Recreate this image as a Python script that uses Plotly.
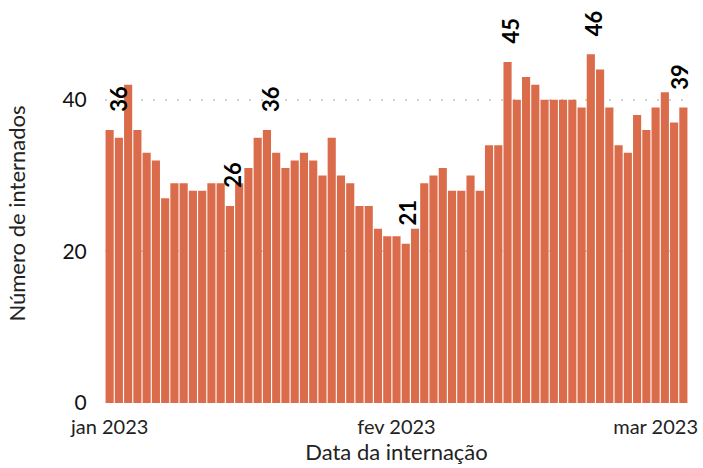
import pandas as pd
import plotly.graph_objects as go

# Internações diárias, 1 jan a 4 mar 2023
datas = pd.date_range("2023-01-01", "2023-03-04", freq="D")
internados = [
    36, 35, 42, 36, 33, 32, 27, 29, 29, 28, 28, 29, 29, 26, 29, 31,
    35, 36, 33, 31, 32, 33, 32, 30, 35, 30, 29, 26, 26, 23, 22,
    22, 21, 23, 29, 30, 31, 28, 28, 30, 28, 34, 34, 45, 40, 43, 42,
    40, 40, 40, 40, 39, 46, 44, 39, 34, 33, 38, 36, 39, 41, 37, 39,
]

# Dias destacados com rótulo
datas_rotulo = ["2023-01-01", "2023-01-14", "2023-01-18", "2023-02-02",
                "2023-02-13", "2023-02-22", "2023-03-04"]

tick_vals = ["2023-01-01", "2023-02-01", "2023-03-01"]
tick_text = ["jan 2023", "fev 2023", "mar 2023"]

serie = pd.Series(internados, index=datas)

fig = go.Figure()
fig.add_trace(go.Bar(
    x=datas,
    y=internados,
    marker=dict(color="#DB6C4B", line=dict(width=0)),
    hovertemplate="%{x|%d/%m/%Y}: %{y}<extra></extra>",
))

# deslocamento horizontal dos rótulos (px)
desloc = [8, 3, 3, 2, 3, 2, -4]
for d, dx in zip(datas_rotulo, desloc):
    v = int(serie[pd.Timestamp(d)])
    fig.add_annotation(
        x=d, y=v, text=str(v), showarrow=False,
        textangle=-90, yanchor="bottom", xanchor="center",
        yshift=16, xshift=dx,
        font=dict(family="Lato", size=22, color="#000000", weight="bold"),
    )

x_ini = datas[0] - pd.Timedelta(hours=12)
x_fim = datas[-1] + pd.Timedelta(hours=12)

fig.update_layout(
    width=703, height=468,
    margin=dict(l=105, r=15, t=24, b=65),
    plot_bgcolor="white",
    paper_bgcolor="white",
    bargap=0.12,
    showlegend=False,
    font=dict(family="Lato", size=20, color="#222222"),
    xaxis=dict(
        title=dict(text="Data da internação", font=dict(size=22), standoff=2),
        range=[x_ini, x_fim],
        tickvals=tick_vals, ticktext=tick_text,
        showgrid=False, zeroline=False, showline=False,
        ticks="outside", ticklen=6, tickcolor="white",
        tickfont=dict(size=20),
        ticklabeloverflow="allow",
        automargin=False,
    ),
    yaxis=dict(
        title=dict(text="Número de internados", font=dict(size=22), standoff=30),
        range=[0, 50],
        tickvals=[0, 20, 40],
        showgrid=True, gridcolor="#D3D3D3", gridwidth=2, griddash="2px,10px",
        zeroline=False, showline=False,
        ticks="outside", ticklen=13, tickcolor="white",
        tickfont=dict(size=21, color="#111111"),
        automargin=False,
    ),
)

# tira a margem padrão do body para a figura ocupar a janela inteira
fig.write_html(
    "out.html",
    config={"displayModeBar": False},
    post_script="document.body.style.margin='0px';",
)
